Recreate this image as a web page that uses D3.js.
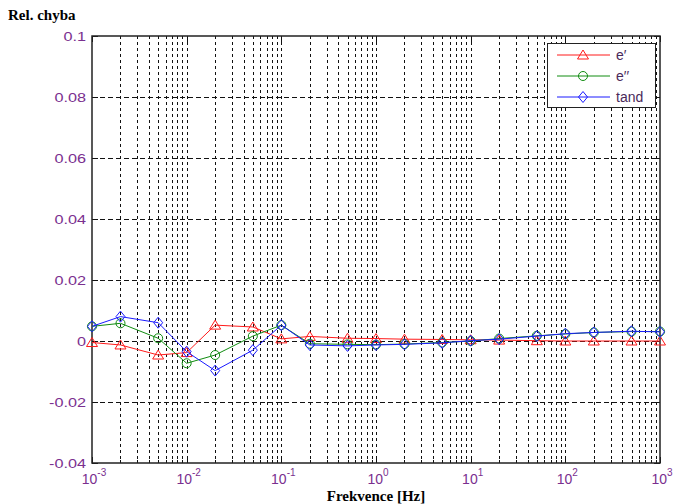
<html>
<head>
  <script src="https://d3js.org/d3.v7.min.js"></script>
  <style>
    body { margin: 0; background: white; }
  </style>
</head>
<body>
  <svg></svg>
  <script>
  const freq = [0.001, 0.002, 0.005, 0.01, 0.02, 0.05, 0.1, 0.2, 0.5, 1, 2, 5, 10, 20, 50, 100, 200, 500, 1000];
  const ePrime = [-0.0005, -0.0013, -0.0046, -0.0038, 0.0052, 0.0046, 0.0007, 0.0015, 0.0009, 0.0008, 0.0006, 0.0005, 0.0004, 0.0003, 0.0001, 0.0, 0.0, 0.0, 0.0];
  const eDouble = [0.0048, 0.0058, 0.0009, -0.0073, -0.0046, 0.0016, 0.0052, -0.0009, -0.0011, -0.0012, -0.001, -0.0005, 0.0, 0.0008, 0.0017, 0.0023, 0.0028, 0.0031, 0.0031];
  const tand = [0.0048, 0.008, 0.006, -0.0035, -0.0097, -0.003, 0.0052, -0.0013, -0.0016, -0.0013, -0.0011, -0.0006, 0.0001, 0.0006, 0.0016, 0.0024, 0.0028, 0.0032, 0.003];
  const yTicks = [-0.04, -0.02, 0, 0.02, 0.04, 0.06, 0.08, 0.1];
  const yTickLabels = ["-0.04", "-0.02", "0", "0.02", "0.04", "0.06", "0.08", "0.1"];
  const xExponents = [-3, -2, -1, 0, 1, 2, 3];
  const seriesNames = ["e\u2032", "e\u2032\u2032", "tand"];

  const W = 675, H = 504;
  const pLeft = 92, pRight = 660, pTop = 36, pBottom = 463;
  const labelColor = "#7a2f8f";

  const x = d3.scaleLog().domain([1e-3, 1e3]).range([pLeft, pRight]);
  const y = d3.scaleLinear().domain([-0.04, 0.1]).range([pBottom, pTop]);

  const svg = d3.select("svg").attr("width", W).attr("height", H);

  // minor + major x positions
  var xAll = [];
  xExponents.forEach(function(e){
    for (var m = 1; m <= 9; m++){
      var v = m * Math.pow(10, e);
      if (v <= 1000.0001) xAll.push(v);
    }
  });

  // grid
  svg.append("g").selectAll("line")
    .data(xAll.filter(v => v > 0.0011 && v < 999))
    .join("line")
    .attr("x1", d => Math.round(x(d)) + 0.5).attr("x2", d => Math.round(x(d)) + 0.5)
    .attr("y1", pTop).attr("y2", pBottom)
    .attr("stroke", "#111").attr("stroke-width", 1).attr("stroke-dasharray", "3,3");

  svg.append("g").selectAll("line")
    .data(yTicks.filter(v => v > -0.039 && v < 0.099))
    .join("line")
    .attr("x1", pLeft).attr("x2", pRight)
    .attr("y1", d => Math.round(y(d)) + 0.5).attr("y2", d => Math.round(y(d)) + 0.5)
    .attr("stroke", "#111").attr("stroke-width", 1).attr("stroke-dasharray", "5,3");

  // ticks inside the box
  const ticks = svg.append("g").attr("stroke", "#111").attr("stroke-width", 1);
  xAll.forEach(function(v){
    var len = (Math.abs(Math.log10(v) - Math.round(Math.log10(v))) < 1e-6) ? 6 : 3;
    var px = Math.round(x(v)) + 0.5;
    ticks.append("line").attr("x1", px).attr("x2", px).attr("y1", pBottom).attr("y2", pBottom - len);
    ticks.append("line").attr("x1", px).attr("x2", px).attr("y1", pTop).attr("y2", pTop + len);
  });
  yTicks.forEach(function(v){
    var py = Math.round(y(v)) + 0.5;
    ticks.append("line").attr("x1", pLeft).attr("x2", pLeft + 6).attr("y1", py).attr("y2", py);
    ticks.append("line").attr("x1", pRight).attr("x2", pRight - 6).attr("y1", py).attr("y2", py);
  });

  // box
  svg.append("rect")
    .attr("x", pLeft).attr("y", pTop).attr("width", pRight - pLeft).attr("height", pBottom - pTop)
    .attr("fill", "none").attr("stroke", "#222").attr("stroke-width", 1.5);

  // y tick labels
  svg.append("g").selectAll("text")
    .data(yTicks)
    .join("text")
    .attr("transform", d => "translate(86," + (y(d) + 4.5) + ") scale(1.25,1)")
    .attr("text-anchor", "end")
    .attr("font-family", "Liberation Sans, Arial, sans-serif")
    .attr("font-size", 13)
    .attr("fill", labelColor)
    .text((d, i) => yTickLabels[i]);

  // x tick labels 10^n
  const xl = svg.append("g").attr("font-family", "Liberation Sans, Arial, sans-serif").attr("fill", labelColor);
  xExponents.forEach(function(e){
    var t = xl.append("text")
      .attr("x", x(Math.pow(10, e)) + 2)
      .attr("y", 484)
      .attr("text-anchor", "middle")
      .attr("font-size", 14);
    t.append("tspan").text("10");
    t.append("tspan").attr("font-size", 10).attr("dy", -8).text(e);
  });

  // axis titles
  svg.append("text")
    .attr("x", 8).attr("y", 20)
    .attr("font-family", "Liberation Serif, Times New Roman, serif")
    .attr("font-weight", "bold").attr("font-size", 15)
    .text("Rel. chyba");
  svg.append("text")
    .attr("x", 376).attr("y", 501)
    .attr("text-anchor", "middle")
    .attr("font-family", "Liberation Serif, Times New Roman, serif")
    .attr("font-weight", "bold").attr("font-size", 15)
    .text("Frekvence [Hz]");

  // markers
  function triangle(g, cx, cy, color){
    g.append("path").attr("d", "M" + cx + "," + (cy - 5) + "L" + (cx + 5.5) + "," + (cy + 4) + "L" + (cx - 5.5) + "," + (cy + 4) + "Z")
      .attr("fill", "none").attr("stroke", color).attr("stroke-width", 1);
  }
  function circle(g, cx, cy, color){
    g.append("circle").attr("cx", cx).attr("cy", cy).attr("r", 4.5)
      .attr("fill", "none").attr("stroke", color).attr("stroke-width", 1);
  }
  function diamond(g, cx, cy, color){
    g.append("path").attr("d", "M" + cx + "," + (cy - 5.5) + "L" + (cx + 4.5) + "," + cy + "L" + cx + "," + (cy + 5.5) + "L" + (cx - 4.5) + "," + cy + "Z")
      .attr("fill", "none").attr("stroke", color).attr("stroke-width", 1);
  }

  const series = [
    { values: ePrime, color: "#ff1a1a", marker: triangle },
    { values: eDouble, color: "#108c10", marker: circle },
    { values: tand, color: "#1a1aff", marker: diamond }
  ];

  const line = d3.line().x(d => x(d[0])).y(d => y(d[1]));

  series.forEach(function(s){
    var pts = freq.map((f, i) => [f, s.values[i]]);
    var g = svg.append("g");
    g.append("path").datum(pts).attr("d", line)
      .attr("fill", "none").attr("stroke", s.color).attr("stroke-width", 1);
    pts.forEach(p => s.marker(g, x(p[0]), y(p[1]), s.color));
  });

  // legend
  const lg = svg.append("g");
  lg.append("rect").attr("x", 547.5).attr("y", 43.5).attr("width", 108).attr("height", 64)
    .attr("fill", "white").attr("stroke", "#222").attr("stroke-width", 1);
  series.forEach(function(s, i){
    var ly = 55 + i * 21;
    lg.append("line").attr("x1", 557).attr("x2", 610).attr("y1", ly).attr("y2", ly)
      .attr("stroke", s.color).attr("stroke-width", 1);
    s.marker(lg, 583, ly, s.color);
    lg.append("text").attr("x", 616).attr("y", ly + 5)
      .attr("font-family", "Liberation Sans, Arial, sans-serif").attr("font-size", 14)
      .attr("fill", "#4a2a5a")
      .text(seriesNames[i]);
  });
  </script>
</body>
</html>
